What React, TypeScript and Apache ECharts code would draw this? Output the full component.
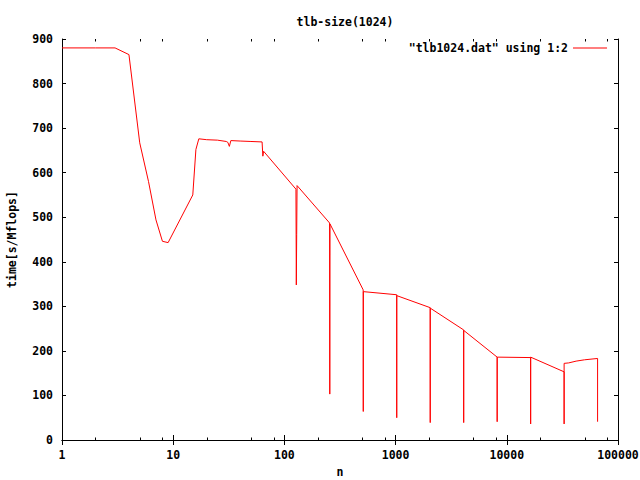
import React, { useEffect, useRef } from "react";
import * as echarts from "echarts";

const titleText = "tlb-size(1024)";
const seriesName = '"tlb1024.dat" using 1:2';
const xName = "n";
const yName = "time[s/Mflops]";

const nValues = [
  1, 2, 3, 4, 5, 6, 7, 8, 9, 15, 16, 17, 20, 25, 30, 31, 32, 33, 40, 50, 63, 64, 65,
  127, 128, 129, 130, 255, 256, 257, 511, 512, 513, 1023, 1024, 1025, 2047, 2048, 2049,
  4095, 4096, 4097, 8191, 8192, 8193, 16383, 16384, 16385, 32767, 32768, 32769, 36000,
  42000, 50000, 65535, 65536,
];
const timeValues = [
  880, 880, 880, 865, 667, 580, 494, 446, 443, 550, 652, 676, 674, 673, 670, 668, 659, 672,
  671, 670, 669, 637, 648, 563, 348, 461, 571, 487, 103, 485, 337, 64, 333, 326, 50, 324,
  297, 39, 296, 247, 39, 246, 186, 41, 186, 185, 36, 186, 153, 36, 172, 173, 177, 180, 183,
  41,
];

const minorTicks = [
  2, 5, 8, 20, 50, 80, 200, 500, 800, 2000, 5000, 8000, 20000, 50000, 80000,
];

const FONT = "DejaVu Sans Mono";

export default function App() {
  const ref = useRef<HTMLDivElement>(null);

  useEffect(() => {
    if (!ref.current) return;
    const chart = echarts.init(ref.current, null, { renderer: "svg" });
    const data = nValues.map((n, i) => [n, timeValues[i]]);
    const labelStyle = {
      color: "#000",
      fontFamily: FONT,
      fontWeight: "bold" as const,
      fontSize: 11.5,
    };
    const axisLine = { show: true, lineStyle: { color: "#000", width: 1 } };
    chart.setOption({
      animation: false,
      backgroundColor: "#fff",
      title: {
        text: titleText,
        left: 340,
        top: 11,
        textAlign: "center",
        textStyle: labelStyle,
      },
      legend: {
        data: [seriesName],
        right: 28,
        top: 37,
        padding: 5,
        align: "right",
        icon: "rect",
        itemWidth: 34,
        itemHeight: 1,
        itemStyle: { color: "#ff0000" },
        textStyle: labelStyle,
      },
      grid: {
        left: 62,
        right: 22,
        top: 39,
        bottom: 40,
        containLabel: false,
        outerBoundsMode: "none",
      },
      xAxis: [
        {
          type: "log",
          logBase: 10,
          min: 1,
          max: 100000,
          position: "bottom",
          name: xName,
          nameLocation: "middle",
          nameGap: 26,
          nameTextStyle: labelStyle,
          axisLine,
          axisTick: { show: true, inside: true, length: 5, lineStyle: { color: "#000" } },
          axisLabel: {
            ...labelStyle,
            margin: 9,
            showMaxLabel: true,
            formatter: (v: number) => String(Math.round(v)),
          },
          splitLine: { show: false },
          minorTick: { show: false },
        },
        {
          type: "log",
          logBase: 10,
          min: 1,
          max: 100000,
          position: "top",
          axisLine,
          axisTick: { show: true, inside: true, length: 5, lineStyle: { color: "#000" } },
          axisLabel: { show: false },
          splitLine: { show: false },
        },
      ],
      yAxis: [
        {
          type: "value",
          min: 0,
          max: 900,
          interval: 100,
          position: "left",
          name: yName,
          nameLocation: "middle",
          nameRotate: 90,
          nameGap: 44,
          nameTextStyle: labelStyle,
          axisLine,
          axisTick: { show: true, inside: true, length: 4, lineStyle: { color: "#000" } },
          axisLabel: { ...labelStyle, margin: 9 },
          splitLine: { show: false },
        },
        {
          type: "value",
          min: 0,
          max: 900,
          interval: 100,
          position: "right",
          axisLine,
          axisTick: { show: true, inside: true, length: 4, lineStyle: { color: "#000" } },
          axisLabel: { show: false },
          splitLine: { show: false },
        },
      ],
      series: [
        {
          name: seriesName,
          type: "line",
          xAxisIndex: 0,
          yAxisIndex: 0,
          data,
          symbol: "none",
          showSymbol: false,
          lineStyle: { color: "#ff0000", width: 1 },
          itemStyle: { color: "#ff0000" },
          silent: true,
        },
        {
          name: "minor",
          type: "custom",
          xAxisIndex: 0,
          yAxisIndex: 0,
          silent: true,
          data: minorTicks.map((v) => [v]),
          encode: { x: 0 },
          renderItem: (params: any, api: any) => {
            const v = api.value(0);
            const b = api.coord([v, 0]);
            const t = api.coord([v, 900]);
            const x = Math.round(b[0]) + 0.5;
            const style = { stroke: "#000", lineWidth: 1 };
            return {
              type: "group",
              children: [
                { type: "line", shape: { x1: x, y1: b[1], x2: x, y2: b[1] - 2.5 }, style },
                { type: "line", shape: { x1: x, y1: t[1], x2: x, y2: t[1] + 2.5 }, style },
              ],
            };
          },
        },
      ],
    });
    return () => chart.dispose();
  }, []);

  return (
    <div
      ref={ref}
      style={{ position: "fixed", left: 0, top: 0, width: 640, height: 480 }}
    />
  );
}
